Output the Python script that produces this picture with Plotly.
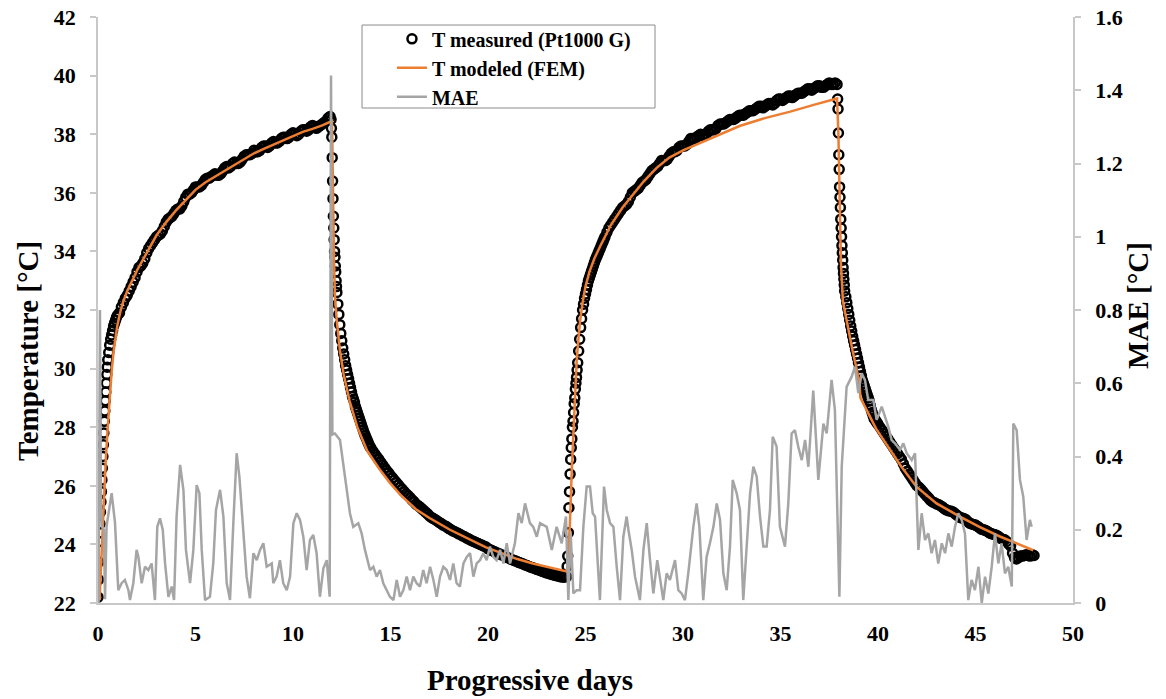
import plotly.graph_objects as go

# ---------------- DATA ----------------
# Measured temperature (Pt1000 G), °C, sampled in segments: start day, step (days), values
meas_heat1_a = [22.2, 22.8, 23.4, 24.1, 24.7, 25.1, 25.45, 25.8, 26.2, 26.6, 27.0, 27.4, 27.8,
                28.2, 28.55, 28.9, 29.2, 29.5, 29.8, 30.05, 30.3]            # 0.00 .. 0.50, step 0.025
meas_heat1_b = [30.55, 30.8, 31.0, 31.15, 31.3, 31.45, 31.55, 31.65, 31.75, 31.82]  # 0.55 .. 1.00, step 0.05
meas_heat1_c = [31.9, 32.1, 32.25, 32.4, 32.5, 32.65, 32.8, 32.95, 33.1, 33.3,
                33.45, 33.5, 33.6, 33.75, 33.95, 34.1, 34.2, 34.3, 34.4, 34.5,
                34.55, 34.6, 34.7, 34.85, 35.0, 35.1, 35.15, 35.2, 35.3, 35.4,
                35.45, 35.45, 35.55, 35.7, 35.85, 35.95, 35.95, 36.0, 36.1, 36.2,
                36.2, 36.2, 36.25, 36.35, 36.45, 36.5, 36.5, 36.55, 36.6, 36.65,
                36.6, 36.6, 36.65, 36.75, 36.85, 36.9, 36.85, 36.9, 37.0, 37.05,
                37.0, 37.0, 37.05, 37.15, 37.25, 37.3, 37.3, 37.3, 37.35, 37.45,
                37.4, 37.4, 37.45, 37.55, 37.6, 37.6, 37.55, 37.6, 37.7, 37.75,
                37.7, 37.7, 37.75, 37.85, 37.9, 37.9, 37.85, 37.9, 38.0, 38.05,
                38.0, 37.95, 38.0, 38.1, 38.15, 38.15, 38.1, 38.15, 38.25, 38.3,
                38.25, 38.2, 38.25, 38.3, 38.35, 38.4, 38.45, 38.55, 38.6]      # 1.1 .. 11.9, step 0.1
meas_cool1_a = [38.5, 38.2, 37.9, 37.2, 36.4, 35.8, 35.2, 34.8, 34.4, 34.0, 33.8, 33.5,
                33.3, 33.0, 32.8, 32.6]                                       # 11.95 .. 12.25, step 0.02
meas_cool1_b = [32.2, 31.85, 31.5, 31.2, 30.95, 30.7, 30.5, 30.3, 30.1, 29.95, 29.8, 29.65,
                29.5, 29.35, 29.2, 29.05, 28.95, 28.85, 28.7, 28.6, 28.5, 28.4, 28.3, 28.2,
                28.1, 28.0, 27.9, 27.8, 27.72, 27.64, 27.56, 27.48, 27.4, 27.33]  # 12.3 .. 13.95, step 0.05
meas_cool1_c = [27.28, 27.18, 27.08, 26.99, 26.9, 26.8, 26.71, 26.61, 26.52, 26.44,
                26.35, 26.27, 26.19, 26.11, 26.03, 25.95, 25.88, 25.8, 25.73, 25.67,
                25.6, 25.52, 25.46, 25.38, 25.33, 25.28, 25.22, 25.16, 25.1, 25.04,
                24.97, 24.92, 24.88, 24.84, 24.8, 24.75, 24.71, 24.66, 24.63, 24.59,
                24.54, 24.5, 24.46, 24.43, 24.4, 24.36, 24.33, 24.29, 24.26, 24.22,
                24.19, 24.15, 24.12, 24.09, 24.06, 24.03, 24.0, 23.97, 23.94, 23.91,
                23.85, 23.82, 23.79, 23.76, 23.73, 23.7, 23.67, 23.64, 23.62, 23.59,
                23.55, 23.52, 23.49, 23.46, 23.44, 23.41, 23.38, 23.36, 23.33, 23.3,
                23.28, 23.25, 23.22, 23.2, 23.18, 23.15, 23.13, 23.1, 23.08, 23.05,
                23.03, 23.01, 22.99, 22.97, 22.95, 22.93, 22.92, 22.9, 22.89, 22.88]  # 14.0 .. 23.9, step 0.1
meas_heat2_a = [22.9, 23.25, 23.6, 24.4, 25.25, 25.8, 26.4, 26.9, 27.3, 27.6, 28.0, 28.2,
                28.5, 28.8, 29.0, 29.3, 29.5, 29.7, 29.95, 30.2]             # 24.03 .. 24.60, step 0.03
meas_heat2_b = [30.6, 31.0, 31.4, 31.7, 32.0, 32.2, 32.4, 32.55, 32.7, 32.85, 33.0, 33.1,
                33.2, 33.3, 33.4, 33.5, 33.6, 33.7, 33.78, 33.86, 33.94, 34.02, 34.1,
                34.18, 34.26, 34.34, 34.42]                                   # 24.65 .. 25.95, step 0.05
meas_heat2_c = [34.5, 34.65, 34.8, 34.9, 35.0, 35.1, 35.2, 35.3, 35.4, 35.5,
                35.55, 35.6, 35.7, 35.85, 36.0, 36.05, 36.1, 36.15, 36.25, 36.35,
                36.4, 36.45, 36.55, 36.65, 36.75, 36.8, 36.85, 36.9, 37.0, 37.1,
                37.1, 37.1, 37.15, 37.25, 37.35, 37.4, 37.4, 37.45, 37.55, 37.6,
                37.6, 37.6, 37.65, 37.75, 37.85, 37.85, 37.85, 37.9, 37.95, 38.0,
                37.95, 37.95, 38.0, 38.1, 38.15, 38.15, 38.15, 38.2, 38.3, 38.35,
                38.35, 38.35, 38.4, 38.45, 38.5, 38.5, 38.5, 38.55, 38.6, 38.65,
                38.65, 38.65, 38.7, 38.75, 38.8, 38.8, 38.8, 38.85, 38.9, 38.95,
                38.95, 38.9, 38.95, 39.0, 39.05, 39.05, 39.0, 39.05, 39.15, 39.2,
                39.2, 39.15, 39.2, 39.25, 39.3, 39.3, 39.25, 39.3, 39.35, 39.4,
                39.4, 39.4, 39.45, 39.5, 39.55, 39.55, 39.5, 39.55, 39.6, 39.65,
                39.65, 39.6, 39.6, 39.65, 39.7, 39.75, 39.7, 39.7, 39.75, 39.7]   # 26.0 .. 37.9, step 0.1
meas_cool2_a = [39.2, 38.86, 38.04, 37.3, 36.8, 36.2, 35.85, 35.5, 35.1, 34.8, 34.5, 34.2,
                33.95, 33.7, 33.45, 33.25, 33.05, 32.85, 32.65]               # 37.93 .. 38.29, step 0.02
meas_cool2_b = [32.45, 32.25, 32.05, 31.85, 31.65, 31.45, 31.28, 31.1, 30.95, 30.8, 30.65,
                30.5, 30.35, 30.2, 30.05, 29.9, 29.75, 29.6, 29.5, 29.4, 29.3, 29.2, 29.1,
                29.0, 28.9, 28.75, 28.6, 28.5, 28.4, 28.3, 28.25, 28.2, 28.15]  # 38.35 .. 39.95, step 0.05
meas_cool2_c = [28.1, 28.0, 27.9, 27.8, 27.7, 27.6, 27.5, 27.4, 27.3, 27.2,
                27.1, 27.0, 26.9, 26.75, 26.6, 26.5, 26.4, 26.3, 26.2, 26.1,
                26.0, 25.95, 25.88, 25.8, 25.72, 25.65, 25.58, 25.5, 25.45, 25.42,
                25.38, 25.36, 25.32, 25.28, 25.22, 25.18, 25.15, 25.14, 25.12, 25.08,
                25.02, 24.97, 24.92, 24.9, 24.88, 24.85, 24.78, 24.72, 24.7, 24.68,
                24.66, 24.62, 24.57, 24.52, 24.5, 24.48, 24.45, 24.4, 24.37, 24.35,
                24.33, 24.3, 24.26, 24.2, 24.18, 24.16, 24.1, 24.02, 23.95, 23.7,
                23.55, 23.5, 23.55, 23.6, 23.6, 23.62, 23.65, 23.62, 23.6, 23.65,
                23.62]                                                        # 40.0 .. 48.0, step 0.1

meas_segments = [
    (0.0, 0.025, meas_heat1_a), (0.55, 0.05, meas_heat1_b), (1.1, 0.1, meas_heat1_c),
    (11.95, 0.02, meas_cool1_a), (12.3, 0.05, meas_cool1_b), (14.0, 0.1, meas_cool1_c),
    (24.03, 0.03, meas_heat2_a), (24.65, 0.05, meas_heat2_b), (26.0, 0.1, meas_heat2_c),
    (37.93, 0.02, meas_cool2_a), (38.35, 0.05, meas_cool2_b), (40.0, 0.1, meas_cool2_c),
]

# Modeled temperature (FEM)
model_day = [0.08, 0.2, 0.3, 0.4, 0.5, 0.6, 0.7, 0.8, 0.9, 1.0, 1.15, 1.3, 1.5, 2.0, 2.5, 3.0,
             3.5, 4.0, 4.5, 5.0, 5.5, 6.0, 6.5, 7.0, 7.5, 8.0, 8.5, 9.0, 9.5, 10.0, 10.5, 11.0,
             11.5, 12.0, 12.05, 12.1, 12.15, 12.25, 12.41, 12.6, 12.9, 13.3, 13.8, 14.4, 14.97,
             15.5, 16.3, 17.0, 18.05, 19.0, 19.9, 20.7, 21.5, 22.3, 23.2, 24.04, 24.1, 24.2,
             24.3, 24.4, 24.5, 24.55, 24.65, 24.72, 24.85, 25.0, 25.2, 25.45, 25.74, 26.3, 26.9,
             27.5, 28.0, 28.65, 29.3, 30.0, 30.87, 31.9, 32.9, 34.2, 35.5, 36.7, 37.8, 37.9,
             37.97, 38.03, 38.1, 38.2, 38.39, 38.55, 38.7, 38.9, 39.05, 39.1, 39.4, 39.9, 40.4,
             41.2, 41.97, 43.0, 44.2, 45.2, 46.25, 47.1, 47.96]
model_T = [22.1, 24.0, 25.5, 26.9, 28.0, 29.0, 29.9, 30.6, 31.1, 31.5, 31.95, 32.3, 32.65, 33.35,
           33.95, 34.55, 35.0, 35.4, 35.75, 36.1, 36.35, 36.55, 36.75, 36.95, 37.15, 37.35, 37.5,
           37.65, 37.8, 37.95, 38.08, 38.18, 38.3, 38.45, 35.5, 33.8, 32.5, 31.6, 30.6, 29.8,
           28.9, 28.0, 27.2, 26.6, 26.1, 25.7, 25.2, 24.9, 24.5, 24.2, 23.9, 23.7, 23.5, 23.35,
           23.2, 23.08, 23.5, 24.7, 26.6, 28.2, 29.6, 30.3, 31.1, 31.6, 32.25, 32.8, 33.3, 33.75,
           34.16, 34.9, 35.5, 36.0, 36.4, 36.85, 37.2, 37.45, 37.7, 38.0, 38.28, 38.55, 38.77,
           39.0, 39.2, 39.22, 38.0, 35.5, 33.6, 32.3, 31.6, 31.1, 30.6, 30.0, 29.5, 29.0, 28.6,
           27.95, 27.45, 26.65, 25.97, 25.4, 24.95, 24.6, 24.27, 24.03, 23.8]

# Mean absolute error (right axis), °C
mae_day = [0.03, 0.1, 0.15, 0.19, 0.3, 0.36, 0.44, 0.6, 0.7, 0.87, 1.04, 1.21, 1.38, 1.56, 1.64,
           1.81, 1.98, 2.07, 2.24, 2.41, 2.58, 2.75, 2.92, 3.04, 3.18, 3.32, 3.44, 3.61, 3.78,
           3.9, 4.03, 4.21, 4.38, 4.51, 4.72, 4.89, 5.06, 5.2, 5.32, 5.49, 5.74, 5.91, 6.05,
           6.26, 6.43, 6.6, 6.77, 6.94, 7.11, 7.25, 7.45, 7.62, 7.79, 7.97, 8.14, 8.31, 8.48,
           8.65, 8.91, 8.99, 9.16, 9.33, 9.5, 9.68, 9.85, 10.02, 10.19, 10.36, 10.53, 10.7,
           10.87, 11.04, 11.21, 11.38, 11.56, 11.73, 11.88, 11.95, 12.02, 12.15, 12.41, 12.67,
           12.92, 13.09, 13.35, 13.52, 13.69, 13.95, 14.12, 14.29, 14.46, 14.63, 14.8, 14.97,
           15.15, 15.32, 15.49, 15.66, 15.83, 16.0, 16.17, 16.34, 16.51, 16.68, 16.85, 17.03,
           17.2, 17.37, 17.54, 17.71, 17.88, 18.05, 18.22, 18.39, 18.56, 18.74, 18.91, 19.08,
           19.25, 19.42, 19.59, 19.76, 19.93, 20.1, 20.27, 20.44, 20.62, 20.79, 20.96, 21.13,
           21.38, 21.56, 21.73, 21.9, 22.15, 22.32, 22.5, 22.67, 23.01, 23.27, 23.52, 23.78,
           24.0, 24.12, 24.24, 24.38, 24.55, 24.72, 24.89, 25.06, 25.23, 25.37, 25.49, 25.74,
           25.95, 26.09, 26.26, 26.43, 26.6, 26.77, 26.94, 27.11, 27.2, 27.37, 27.54, 27.79,
           27.97, 28.14, 28.31, 28.48, 28.68, 28.82, 28.99, 29.16, 29.33, 29.59, 29.76, 29.93,
           30.1, 30.27, 30.53, 30.7, 30.84, 31.04, 31.21, 31.38, 31.56, 31.73, 31.9, 32.07,
           32.24, 32.41, 32.55, 32.75, 32.92, 33.09, 33.26, 33.44, 33.61, 33.78, 33.95, 34.12,
           34.29, 34.46, 34.6, 34.8, 34.97, 35.23, 35.4, 35.57, 35.74, 35.91, 36.09, 36.26,
           36.43, 36.68, 36.94, 37.2, 37.37, 37.62, 37.79, 37.9, 38.02, 38.14, 38.39, 38.65,
           38.82, 38.99, 39.16, 39.33, 39.5, 39.76, 39.93, 40.19, 40.36, 40.53, 40.7, 40.87,
           41.13, 41.3, 41.47, 41.73, 41.9, 41.98, 42.07, 42.24, 42.41, 42.58, 42.75, 42.92,
           43.09, 43.27, 43.44, 43.61, 43.78, 43.95, 44.12, 44.29, 44.46, 44.63, 44.8, 44.97,
           45.15, 45.32, 45.49, 45.66, 45.83, 46.0, 46.17, 46.34, 46.51, 46.68, 46.86, 46.94,
           47.11, 47.28, 47.45, 47.62, 47.79, 47.88]
mae_val = [0.0, 0.8, 0.3, 0.21, 0.2, 0.01, 0.21, 0.26, 0.3, 0.22, 0.035, 0.054, 0.063, 0.035,
           0.008, 0.054, 0.145, 0.126, 0.054, 0.099, 0.09, 0.108, 0.008, 0.208, 0.231, 0.2,
           0.108, 0.017, 0.045, 0.008, 0.236, 0.377, 0.309, 0.145, 0.054, 0.145, 0.322, 0.3,
           0.145, 0.008, 0.017, 0.108, 0.254, 0.309, 0.236, 0.054, 0.008, 0.218, 0.409, 0.345,
           0.181, 0.072, 0.013, 0.136, 0.117, 0.145, 0.163, 0.099, 0.108, 0.054, 0.072, 0.117,
           0.054, 0.035, 0.072, 0.218, 0.245, 0.227, 0.181, 0.09, 0.172, 0.186, 0.136, 0.017,
           0.095, 0.117, 0.017, 1.44, 0.46, 0.463, 0.445, 0.345, 0.245, 0.208, 0.218, 0.19,
           0.145, 0.09, 0.099, 0.072, 0.09, 0.054, 0.035, 0.017, 0.008, 0.063, 0.017, 0.035,
           0.072, 0.035, 0.072, 0.054, 0.045, 0.09, 0.054, 0.099, 0.063, 0.017, 0.072, 0.099,
           0.09, 0.063, 0.108, 0.054, 0.045, 0.108, 0.126, 0.136, 0.072, 0.108, 0.117, 0.136,
           0.117, 0.154, 0.126, 0.117, 0.145, 0.108, 0.163, 0.108, 0.163, 0.245, 0.218, 0.272,
           0.218, 0.208, 0.181, 0.218, 0.208, 0.145, 0.208, 0.163, 0.236, 0.008, 0.19, 0.026,
           0.035, 0.035, 0.208, 0.318, 0.318, 0.245, 0.236, 0.008, 0.318, 0.254, 0.218, 0.208,
           0.099, 0.008, 0.181, 0.236, 0.2, 0.145, 0.072, 0.008, 0.145, 0.218, 0.117, 0.026,
           0.117, 0.072, 0.008, 0.081, 0.063, 0.117, 0.035, 0.026, 0.008, 0.081, 0.208, 0.272,
           0.208, 0.008, 0.126, 0.163, 0.208, 0.272, 0.227, 0.081, 0.035, 0.154, 0.336, 0.3,
           0.254, 0.008, 0.145, 0.3, 0.372, 0.345, 0.236, 0.154, 0.154, 0.254, 0.454, 0.427,
           0.208, 0.154, 0.272, 0.463, 0.472, 0.427, 0.39, 0.445, 0.372, 0.58, 0.336, 0.49,
           0.463, 0.609, 0.527, 0.3, 0.017, 0.372, 0.59, 0.618, 0.645, 0.573, 0.627, 0.609,
           0.554, 0.554, 0.5, 0.536, 0.509, 0.481, 0.445, 0.436, 0.418, 0.436, 0.409, 0.39,
           0.409, 0.281, 0.145, 0.245, 0.172, 0.19, 0.136, 0.172, 0.108, 0.163, 0.136, 0.19,
           0.154, 0.208, 0.245, 0.227, 0.19, 0.008, 0.063, 0.035, 0.099, 0.0, 0.072, 0.026,
           0.099, 0.19, 0.108, 0.163, 0.081, 0.099, 0.045, 0.49, 0.472, 0.336, 0.29, 0.172,
           0.227, 0.208]

x_ticks = [0, 5, 10, 15, 20, 25, 30, 35, 40, 45, 50]
t_ticks = [22, 24, 26, 28, 30, 32, 34, 36, 38, 40, 42]
mae_ticks = [0, 0.2, 0.4, 0.6, 0.8, 1.0, 1.2, 1.4, 1.6]

# ---------------- BUILD ----------------
meas_day, meas_T = [], []
for t0, dt, vals in meas_segments:
    for i, v in enumerate(vals):
        meas_day.append(round(t0 + i * dt, 4))
        meas_T.append(v)

FONT = "Liberation Serif, Times New Roman, serif"
AX = "#c8c8c8"

fig = go.Figure()
fig.add_trace(go.Scatter(
    x=meas_day, y=meas_T, mode="markers", name="T measured (Pt1000 G)",
    marker=dict(symbol="circle-open", size=9, color="black", line=dict(width=2.5, color="black")),
    yaxis="y"))
fig.add_trace(go.Scatter(
    x=model_day, y=model_T, mode="lines", name="T modeled (FEM)",
    line=dict(color="#ED7D31", width=2.5), yaxis="y"))
fig.add_trace(go.Scatter(
    x=mae_day, y=mae_val, mode="lines", name="MAE",
    line=dict(color="#A5A5A5", width=2.5), yaxis="y2"))

tickfont = dict(family=FONT, size=22, color="black", weight="bold")

# plot area at x 98..1073, y 17..603 of the 1166x699 page (body margin removed below)
fig.update_layout(
    width=1166, height=699,
    margin=dict(l=98, r=93, t=17, b=96, autoexpand=False),
    paper_bgcolor="white", plot_bgcolor="white",
    font=dict(family=FONT, color="black"),
    xaxis=dict(range=[0, 50], tickvals=x_ticks, showgrid=False, zeroline=False,
               showline=True, linecolor=AX, linewidth=1.5, ticks="",
               tickfont=tickfont, ticklabelstandoff=10, automargin=False,
               ticklabeloverflow="allow"),
    yaxis=dict(range=[22, 42], tickvals=t_ticks, showgrid=False, zeroline=False,
               showline=True, linecolor=AX, linewidth=1.5, ticks="outside",
               ticklen=6, tickcolor=AX, tickwidth=1.5, tickfont=tickfont,
               ticklabelstandoff=10, automargin=False, ticklabeloverflow="allow"),
    yaxis2=dict(range=[0, 1.6], tickvals=mae_ticks, overlaying="y", side="right",
                showgrid=False, zeroline=False, showline=True, linecolor=AX,
                linewidth=1.5, ticks="outside", ticklen=6, tickcolor=AX, tickwidth=1.5,
                tickfont=tickfont, ticklabelstandoff=10, automargin=False,
                ticklabeloverflow="allow"),
    legend=dict(x=0.3015, y=0.996, xanchor="left", yanchor="top",
                bgcolor="rgba(0,0,0,0)", borderwidth=0,
                font=dict(family=FONT, size=20, color="black", weight="bold")),
    showlegend=True,
)

fig.add_shape(type="rect", xref="paper", yref="paper", x0=0.2708, x1=0.5713,
              y0=0.8447, y1=0.9863, line=dict(color="#8c8c8c", width=1))

title_font = dict(family=FONT, size=29, color="black", weight="bold")
fig.add_annotation(text="Progressive days", xref="paper", yref="paper", x=0.443, y=-0.131,
                   xanchor="center", yanchor="middle", showarrow=False, font=title_font)
fig.add_annotation(text="Temperature [°C]", xref="paper", yref="paper", x=-0.0718, y=0.43,
                   xanchor="center", yanchor="middle", textangle=-90, showarrow=False,
                   font=title_font)
fig.add_annotation(text="MAE [°C]", xref="paper", yref="paper", x=1.0667, y=0.507,
                   xanchor="center", yanchor="middle", textangle=-90, showarrow=False,
                   font=title_font)

fig.write_html("out.html", config={"displayModeBar": False},
               post_script="document.body.style.margin='0';document.body.style.overflow='hidden';")
